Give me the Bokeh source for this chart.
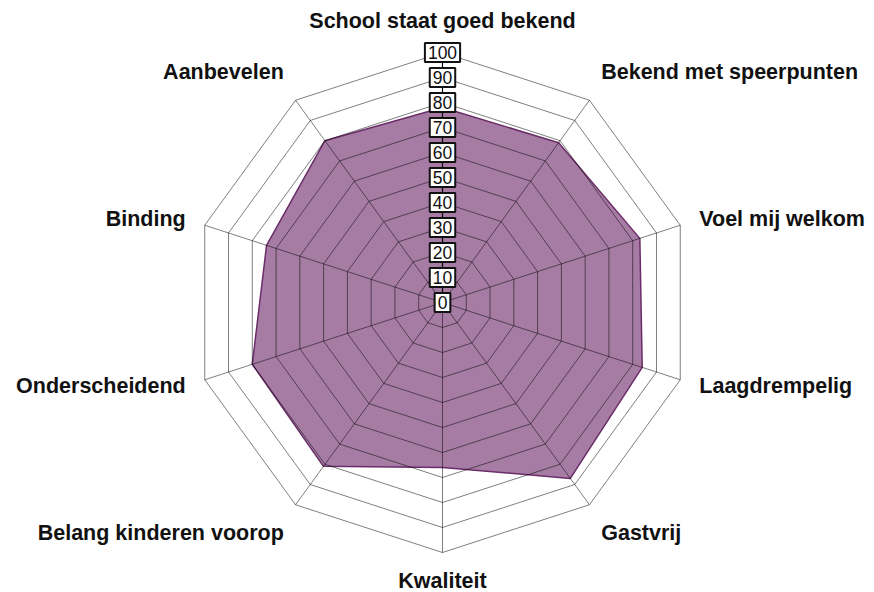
import numpy as np
from bokeh.plotting import figure
from bokeh.models import Range1d
from bokeh.core.properties import value
from bokeh.embed import file_html
from bokeh.resources import INLINE

categories = ["School staat goed bekend", "Bekend met speerpunten", "Voel mij welkom",
              "Laagdrempelig", "Gastvrij", "Kwaliteit", "Belang kinderen voorop",
              "Onderscheidend", "Binding", "Aanbevelen"]
scores = [78, 79, 83, 84, 87, 66, 81, 80, 74, 80]
tick_values = [0, 10, 20, 30, 40, 50, 60, 70, 80, 90, 100]
tick_labels = ["0", "10", "20", "30", "40", "50", "60", "70", "80", "90", "100"]

n = len(categories)
angles = np.pi / 2 - np.arange(n) * 2 * np.pi / n
cosa, sina = np.cos(angles), np.sin(angles)

S = 2.5
W, H = 874, 592
cx, cy = 442, 302

p = figure(width=W, height=H,
           x_range=Range1d(-cx / S, (W - cx) / S),
           y_range=Range1d(-(H - cy) / S, cy / S),
           output_backend="svg", toolbar_location=None, min_border=0)
p.axis.visible = False
p.grid.visible = False
p.outline_line_color = None
p.background_fill_color = "white"

# data polygon
sv = np.array(scores, dtype=float)
p.patch(list(sv * cosa), list(sv * sina), fill_color="#6b2567", fill_alpha=0.6,
        line_color="#6b2d69", line_width=1.5)

# rings
ring_xs, ring_ys = [], []
for t in tick_values[1:]:
    ring_xs.append(list(np.append(t * cosa, t * cosa[0])))
    ring_ys.append(list(np.append(t * sina, t * sina[0])))
p.multi_line(ring_xs, ring_ys, line_color="black", line_alpha=0.5, line_width=1)

# spokes
top = tick_values[-1]
spoke_xs = [[0, top * c] for c in cosa[1:]]
spoke_ys = [[0, top * s] for s in sina[1:]]
p.multi_line(spoke_xs, spoke_ys, line_color="black", line_alpha=0.5, line_width=1)
p.line([0, 0], [0, top], line_color="black", line_width=1.2)

# tick labels
p.text(x=[0] * len(tick_values), y=tick_values, text=tick_labels,
       text_align="center", text_baseline="middle",
       text_font=value("Liberation Sans"), text_font_size="17.5px", text_color="#111111",
       background_fill_color="white", border_line_color="#111111", border_line_width=2,
       padding=3)

# category labels
LR = 108
lx, ly, aligns, bases, yoffs = [], [], [], [], []
for c, s in zip(cosa, sina):
    lx.append(LR * c)
    ly.append(LR * s)
    aligns.append("left" if c > 0.1 else ("right" if c < -0.1 else "center"))
    bases.append("middle" if abs(s) < 0.5 else ("bottom" if s > 0 else "top"))
    yoffs.append(-4 if s < -0.99 else 0)
p.text(x=lx, y=ly, text=categories, text_align=aligns, text_baseline=bases,
       y_offset=yoffs,
       text_font=value("Liberation Sans"), text_font_style="bold",
       text_font_size="21.5px", text_color="#111111")

open("out.html", "w").write(file_html(p, INLINE))
